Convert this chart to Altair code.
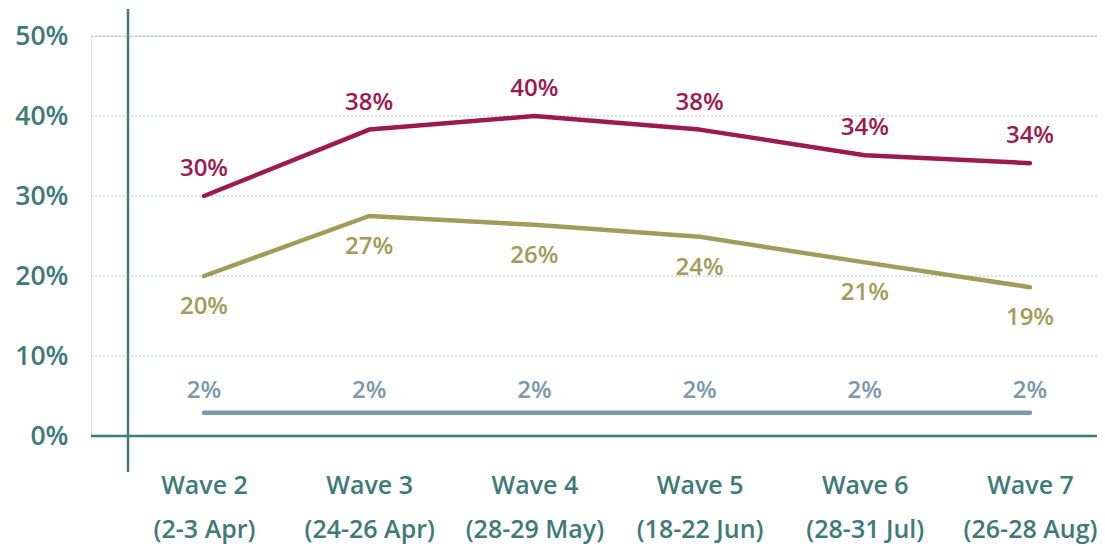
import altair as alt
import pandas as pd

waves = ["Wave 2|(2-3 Apr)", "Wave 3|(24-26 Apr)", "Wave 4|(28-29 May)",
         "Wave 5|(18-22 Jun)", "Wave 6|(28-31 Jul)", "Wave 7|(26-28 Aug)"]
red_vals = [30, 38.3, 40, 38.3, 35.1, 34.1]
red_labels = ["30%", "38%", "40%", "38%", "34%", "34%"]
olive_vals = [20, 27.5, 26.4, 24.9, 21.7, 18.6]
olive_labels = ["20%", "27%", "26%", "24%", "21%", "19%"]
blue_vals = [2.9, 2.9, 2.9, 2.9, 2.9, 2.9]
blue_labels = ["2%", "2%", "2%", "2%", "2%", "2%"]
grid_ticks = [10, 20, 30, 40, 50]

series = ["red", "olive", "blue"]
colors = ["#9c1a50", "#a39b5a", "#7b98ac"]
offsets = [-27, 31, -22]

rows = []
for s, vals, labs, off in zip(series, [red_vals, olive_vals, blue_vals],
                              [red_labels, olive_labels, blue_labels], offsets):
    for i, (w, v, l) in enumerate(zip(waves, vals, labs)):
        rows.append({"wave": w, "order": i, "value": v, "label": l, "series": s, "off": off})
df = pd.DataFrame(rows)

TEAL = "#3e7a79"
FONT = "Open Sans"

x_enc = alt.X("wave:N", sort=waves, title=None,
              scale=alt.Scale(type="point", range=[113, 939], padding=0),
              axis=alt.Axis(labelExpr="split(datum.label, '|')", labelAngle=0,
                            labelFont=FONT, labelFontSize=25, labelFontWeight=600,
                            labelColor=TEAL, labelPadding=37, labelLineHeight=44,
                            ticks=False, domain=False, grid=False, labelBaseline="top"))
y_scale = alt.Scale(domain=[0, 50])
color_scale = alt.Scale(domain=series, range=colors)

base = alt.Chart(df)

grid = alt.Chart(pd.DataFrame({"v": grid_ticks})).mark_rule(
    color="#a9c2c2", strokeWidth=1, strokeDash=[2, 2]
).encode(
    y=alt.Y("v:Q", scale=y_scale),
    x=alt.value(0), x2=alt.value(1006),
)

lines = base.mark_line(strokeWidth=4.5, strokeCap="round", strokeJoin="round").encode(
    x=x_enc,
    y=alt.Y("value:Q", scale=y_scale, title=None,
            axis=alt.Axis(values=[0, 10, 20, 30, 40, 50], labelExpr="datum.value + '%'",
                          labelFont=FONT, labelFontSize=26.5, labelFontWeight=600,
                          labelColor=TEAL, labelPadding=23, ticks=False, domain=False,
                          grid=False)),
    color=alt.Color("series:N", scale=color_scale, legend=None),
    detail="series:N",
    order="order:Q",
)

texts = []
for s, off in zip(series, offsets):
    texts.append(
        base.transform_filter(alt.datum.series == s).mark_text(
            font=FONT, fontSize=24, fontWeight=600, dy=off, baseline="middle"
        ).encode(
            x=alt.X("wave:N", sort=waves),
            y=alt.Y("value:Q", scale=y_scale),
            text="label:N",
            color=alt.Color("series:N", scale=color_scale, legend=None),
        )
    )

axis_df = pd.DataFrame({"a": [0]})
yrule = alt.Chart(axis_df).mark_rule(color=TEAL, strokeWidth=2.5).encode(
    x=alt.value(37), y=alt.value(-27), y2=alt.value(436)
)
xrule = alt.Chart(axis_df).mark_rule(color=TEAL, strokeWidth=2.5).encode(
    x=alt.value(0), x2=alt.value(1006), y=alt.value(400)
)

chart = alt.layer(grid, lines, *texts, xrule, yrule).properties(
    width=1006, height=400,
    autosize=alt.AutoSizeParams(type="none"),
    padding={"left": 83, "top": 28, "right": 0, "bottom": 109},
).configure_view(stroke=None).configure(background="white")

chart.save("out.html", embed_options={"renderer": "svg", "actions": False})
